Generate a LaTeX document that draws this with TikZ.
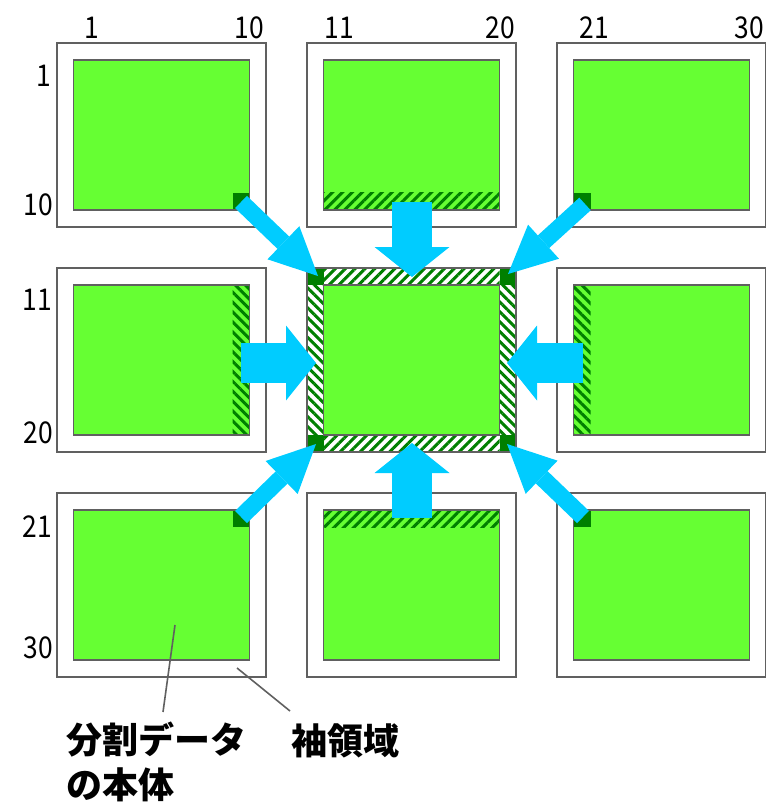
\documentclass[tikz,border=0pt]{standalone}
\usepackage{fontspec}
\newfontfamily\jp{Noto Sans CJK JP}
\newfontfamily\numf[FakeStretch=0.88]{Noto Sans CJK JP}
\usetikzlibrary{patterns.meta,arrows.meta}
\definecolor{lg}{HTML}{66FF33}
\definecolor{dg}{HTML}{007F00}
\definecolor{bd}{HTML}{606060}
\definecolor{cy}{HTML}{00CCFF}
\begin{document}
\begin{tikzpicture}[x=1pt,y=-1pt,
  outerbox/.style={draw=bd,line width=1.8pt,fill=white,minimum width=209pt,minimum height=184pt,inner sep=0pt,outer sep=0pt},
  innerbox/.style={fill=lg,minimum width=176pt,minimum height=150pt,inner sep=0pt,outer sep=0pt},
  border/.style={draw=bd,line width=1.8pt},
  corner/.style={fill=dg},
  hstripe/.style={pattern={Lines[angle=45,distance=7pt,line width=3pt]},pattern color=dg},
  vstripe/.style={pattern={Lines[angle=-45,distance=7pt,line width=3pt]},pattern color=dg},
  numlab/.style={inner sep=0pt,anchor=base,font=\numf\fontsize{30}{30}\selectfont},
  jplab/.style={inner sep=0pt,anchor=base west,align=left,font=\jp\bfseries\fontsize{36}{45}\selectfont},
  bigarrow/.style={draw=cy,line width=40pt,-{Triangle[width=75pt,length=30pt,line width=0pt]}},
  diagarrow/.style={draw=cy,line width=17pt,-{Triangle[width=46pt,length=48pt,line width=0pt]}},
  leader/.style={draw=bd,line width=1.6pt}]
\useasboundingbox (0,0) rectangle (765,802);
% blocks
\foreach \r/\cy in {1/135,2/360,3/585}{
  \foreach \c/\cx in {1/161.5,2/411.5,3/661.5}{
    \node[outerbox] (o\r\c) at (\cx,\cy) {};
    \node[innerbox] (i\r\c) at (\cx,\cy) {};
  }
}
% neighbour halo parts
\fill[corner] (232.5,193) rectangle (249.5,210);
\fill[lg] (323.5,193) rectangle (499.5,210);
\fill[hstripe] (323.5,193) rectangle (499.5,210);
\fill[corner] (573.5,193) rectangle (590.5,210);
\fill[lg] (232.5,285) rectangle (249.5,435);
\fill[vstripe] (232.5,285) rectangle (249.5,435);
\fill[lg] (573.5,285) rectangle (590.5,435);
\fill[vstripe] (573.5,285) rectangle (590.5,435);
\fill[corner] (232.5,510) rectangle (249.5,527);
\fill[lg] (323.5,510) rectangle (499.5,527);
\fill[hstripe] (323.5,510) rectangle (499.5,527);
\fill[corner] (573.5,510) rectangle (590.5,527);
% centre halo
\fill[hstripe] (323.5,268) rectangle (499.5,285);
\fill[hstripe] (323.5,435) rectangle (499.5,452);
\fill[vstripe] (307,285) rectangle (323.5,435);
\fill[vstripe] (499.5,285) rectangle (516,435);
\fill[corner] (307,268) rectangle (323.5,285);
\fill[corner] (499.5,268) rectangle (516,285);
\fill[corner] (307,435) rectangle (323.5,452);
\fill[corner] (499.5,435) rectangle (516,452);
\draw[border] (o22.north west) rectangle (o22.south east);
% inner borders
\foreach \r in {1,2,3}{\foreach \c in {1,2,3}{
  \draw[border] (i\r\c.north west) rectangle (i\r\c.south east);
}}
% numbers
\node[numlab] (c1) at (92,39) {1};
\node[numlab] (c10) at (249,39) {10};
\node[numlab] (c11) at (339,39) {11};
\node[numlab] (c20) at (500,39) {20};
\node[numlab] (c21) at (594,39) {21};
\node[numlab] (c30) at (749,39) {30};
\node[numlab] (r1) at (44,87) {1};
\node[numlab] (r10) at (38,216) {10};
\node[numlab] (r11) at (37,310) {11};
\node[numlab] (r20) at (38,443) {20};
\node[numlab] (r21) at (37,537) {21};
\node[numlab] (r30) at (38,658) {30};
% arrows
\coordinate (aTs) at (412,202); \coordinate (aTe) at (412,277);
\coordinate (aBs) at (412,518); \coordinate (aBe) at (412,443);
\coordinate (aLs) at (241,363); \coordinate (aLe) at (316,363);
\coordinate (aRs) at (583,363); \coordinate (aRe) at (507,363);
\coordinate (dTLs) at (241,202); \coordinate (dTLe) at (318,276);
\coordinate (dTRs) at (585,204); \coordinate (dTRe) at (508,274);
\coordinate (dBLs) at (241,517); \coordinate (dBLe) at (316,444);
\coordinate (dBRs) at (583,517); \coordinate (dBRe) at (507,444);
\draw[bigarrow] (aTs) -- (aTe);
\draw[bigarrow] (aBs) -- (aBe);
\draw[bigarrow] (aLs) -- (aLe);
\draw[bigarrow] (aRs) -- (aRe);
\draw[diagarrow] (dTLs) -- (dTLe);
\draw[diagarrow] (dTRs) -- (dTRe);
\draw[diagarrow] (dBLs) -- (dBLe);
\draw[diagarrow] (dBRs) -- (dBRe);
% labels
\node[jplab] (body) at (66,798) {分割データ\\の本体};
\node[jplab] (halo) at (291,754) {袖領域};
\coordinate (l1a) at (175,625); \coordinate (l1b) at (163,712);
\coordinate (l2a) at (237,668); \coordinate (l2b) at (290,711);
\draw[leader] (l1a) -- (l1b);
\draw[leader] (l2a) -- (l2b);
\end{tikzpicture}
\end{document}
